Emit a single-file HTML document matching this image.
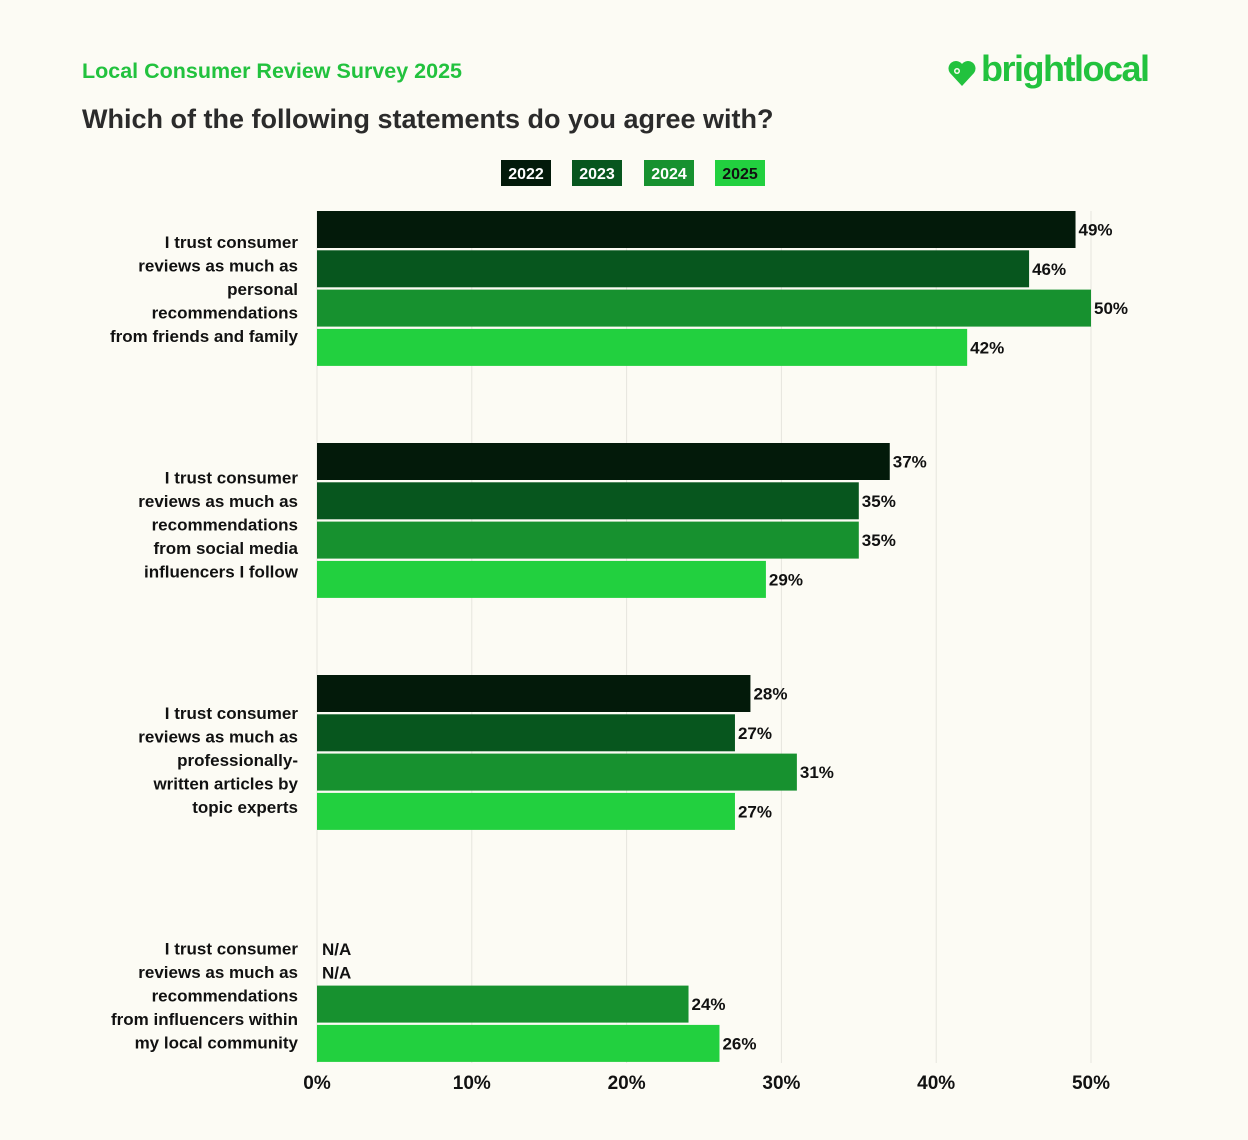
<!DOCTYPE html>
<html><head><meta charset="utf-8"><style>
body{margin:0;background:#fcfbf4;font-family:"Liberation Sans",sans-serif;}
#wrap{position:relative;width:1248px;height:1140px;overflow:hidden;background:#fcfbf4;}
.t{position:absolute;font-weight:bold;}
</style></head><body>
<div id="wrap">
<div class="t" style="left:82px;top:59px;font-size:21.5px;color:#22c23e;">Local Consumer Review Survey 2025</div>
<div class="t" style="left:82px;top:104px;font-size:27px;color:#2b2b2b;">Which of the following statements do you agree with?</div>
<div style="position:absolute;left:947px;top:50px;">
<svg width="30" height="36" viewBox="0 0 30 36" style="position:absolute;left:0;top:6px"><path d="M15 30 L3 17 A7 7 0 0 1 15 8 A7 7 0 0 1 27 17 Z" fill="#22c23e"/><circle cx="10" cy="15" r="3" fill="#fcfbf4"/><circle cx="10" cy="15" r="1.5" fill="#22c23e"/></svg>
<div class="t" style="left:34px;top:-2px;font-size:36px;color:#22c23e;letter-spacing:-1.5px;">brightlocal</div>
</div>
<svg id="chart" width="1248" height="1140" style="position:absolute;left:0;top:0"></svg>
</div>
<script>
const years=["2022","2023","2024","2025"];
const categories=[
 ["I trust consumer","reviews as much as","personal","recommendations","from friends and family"],
 ["I trust consumer","reviews as much as","recommendations","from social media","influencers I follow"],
 ["I trust consumer","reviews as much as","professionally-","written articles by","topic experts"],
 ["I trust consumer","reviews as much as","recommendations","from influencers within","my local community"]];
const v2022=[49,37,28,null];
const v2023=[46,35,27,null];
const v2024=[50,35,31,24];
const v2025=[42,29,27,26];
const xTicks=[0,10,20,30,40,50];
const colors=["#031a0a","#07561e","#17912f","#22d03f"];
const series=[v2022,v2023,v2024,v2025];
const NS="http://www.w3.org/2000/svg";
const svg=document.getElementById('chart');
const x0=317,x1=1091,xMax=50;
const xs=v=>x0+(x1-x0)*v/xMax;
const groupTop=g=>211+g*232;
const rowY=(g,i)=>groupTop(g)+i*39.3;
const barH=37;
function mk(tag,attrs){const e=document.createElementNS(NS,tag);for(const k in attrs)e.setAttribute(k,attrs[k]);svg.appendChild(e);return e;}
xTicks.forEach(t=>{
 const l=mk('line',{x1:xs(t),x2:xs(t),y1:211,y2:1063,stroke:'#e6e5de','stroke-width':1});
 
 
 const tx=mk('text',{x:xs(t),y:1089,'text-anchor':'middle','font-size':19,'font-weight':'bold',fill:'#111'});
 tx.textContent=t+'%';
 
 
});
const legX=[501,572,644,715];
years.forEach((y,i)=>{
 const r=mk('rect',{x:legX[i],y:160,width:50,height:26,fill:colors[i]});
 
 
 const t=mk('text',{x:legX[i]+25,y:179,'text-anchor':'middle','font-size':16,'font-weight':'bold',fill:i==3?'#111':'#fff'});
 t.textContent=y;
 
 
});
categories.forEach((lines,g)=>{
 const c=289+g*235.5;
 lines.forEach((ln,k)=>{
  const t=mk('text',{x:298,y:c+(k-2)*23.5+6,'text-anchor':'end','font-size':17,'font-weight':'bold',fill:'#111'});
  t.textContent=ln;
  
  
 });
 let naCount=0;
 series.forEach((s,i)=>{
  const v=s[g];const y=rowY(g,i);
  if(v==null){
   const t=mk('text',{x:322,y:groupTop(g)+48+naCount*23.5,'font-size':17,'font-weight':'bold',fill:'#111'});
   t.textContent='N/A';
   
   
   naCount++;return;
  }
  const r=mk('rect',{x:x0,y:y,width:xs(v)-x0,height:barH,fill:colors[i]});
  
  
  const t=mk('text',{x:xs(v)+3,y:y+barH/2+6,'font-size':17,'font-weight':'bold',fill:'#111'});
  t.textContent=v+'%';
  
  
 });
});
</script>
</body></html>
